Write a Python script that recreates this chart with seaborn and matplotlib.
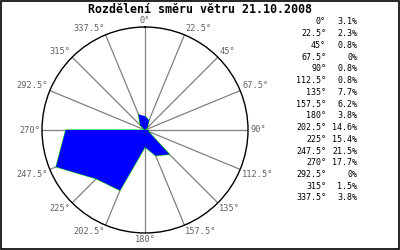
import numpy as np
import pandas as pd
import matplotlib
matplotlib.use("Agg")
import matplotlib.pyplot as plt
import seaborn as sns
from matplotlib.patches import Rectangle

directions = [0, 22.5, 45, 67.5, 90, 112.5, 135, 157.5, 180, 202.5, 225, 247.5, 270, 292.5, 315, 337.5]
dir_labels = ["0°", "22.5°", "45°", "67.5°", "90°", "112.5°", "135°", "157.5°", "180°",
              "202.5°", "225°", "247.5°", "270°", "292.5°", "315°", "337.5°"]
percent = [3.1, 2.3, 0.8, 0.0, 0.8, 0.8, 7.7, 6.2, 3.8, 14.6, 15.4, 21.5, 17.7, 0.0, 1.5, 3.8]
pct_labels = ["3.1%", "2.3%", "0.8%", "0%", "0.8%", "0.8%", "7.7%", "6.2%", "3.8%",
              "14.6%", "15.4%", "21.5%", "17.7%", "0%", "1.5%", "3.8%"]
title = "Rozdělení směru větru 21.10.2008"

sns.set_theme(style="white")
plt.rcParams["font.family"] = ["DejaVu Sans Mono", "DejaVu Sans"]

fig = plt.figure(figsize=(4, 2.5), dpi=100)
fig.patch.set_facecolor("white")
ax = fig.add_axes([0.105, 0.068, 0.515, 0.824], projection="polar")
ax.set_theta_zero_location("N")
ax.set_theta_direction(-1)
rmax = 23.0
ax.set_ylim(0, rmax)

theta = np.radians(directions + [directions[0]])
vals = percent + [percent[0]]
df = pd.DataFrame({"theta": theta, "r": vals})

# radial grid lines
for d in directions:
    t = np.radians(d)
    ax.plot([t, t], [0, rmax], color="#808080", lw=0.9, zorder=1)

sns.lineplot(data=df, x="theta", y="r", sort=False, color="#00dd00", lw=0.8, ax=ax, zorder=2)
ax.fill(df["theta"], df["r"], color="#0000ff", lw=0, zorder=3)

ax.set_xticks([])
ax.set_yticks([])
ax.grid(False)
ax.set_xlabel("")
ax.set_ylabel("")
ax.spines["polar"].set_color("black")
ax.spines["polar"].set_linewidth(1.0)
ax.set_facecolor("white")

for d, lab in zip(directions, dir_labels):
    s, c = np.sin(np.radians(d)), np.cos(np.radians(d))
    ha = "center" if abs(s) < 0.01 else ("left" if s > 0 else "right")
    va = "center" if abs(c) < 0.01 else ("bottom" if c > 0 else "top")
    ax.text(np.radians(d), rmax * 1.02, lab, ha=ha, va=va, fontsize=6.2,
            color="#606060", clip_on=False)

fig.text(0.5, 0.962, title, ha="center", va="center", fontsize=8.4,
         fontweight="bold", color="black")

y0 = 250 - 22
for i, (dl, pl) in enumerate(zip(dir_labels, pct_labels)):
    y = (y0 - i * 11.73) / 250
    fig.text(326 / 400, y, dl, ha="right", va="center", fontsize=6.0, color="black")
    fig.text(357 / 400, y, pl, ha="right", va="center", fontsize=6.0, color="black")

fig.patches.append(Rectangle((0.0015, 0.0025), 0.997, 0.995, transform=fig.transFigure,
                             fill=False, edgecolor="black", lw=1.2))

fig.savefig("out.png", dpi=100, facecolor="white")
